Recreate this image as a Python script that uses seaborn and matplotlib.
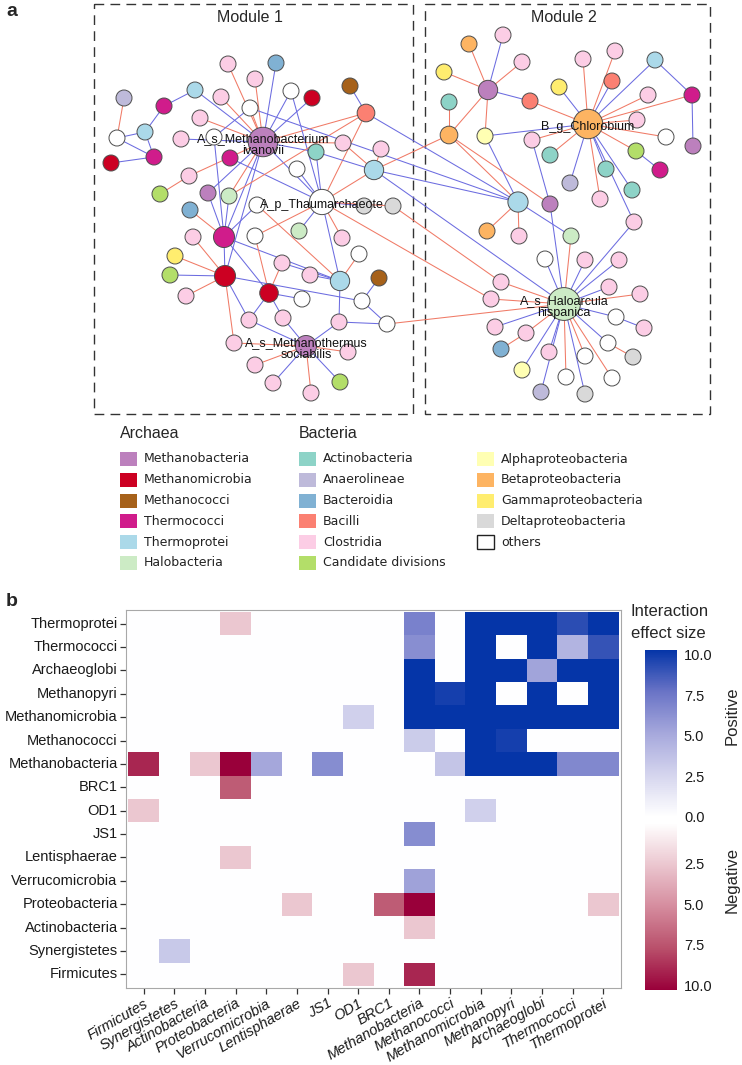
import matplotlib
matplotlib.use("Agg")
import matplotlib.pyplot as plt
import seaborn as sns
import pandas as pd
import numpy as np
from matplotlib.collections import LineCollection
from matplotlib.colors import LinearSegmentedColormap, Normalize
from matplotlib.cm import ScalarMappable
from matplotlib.patches import Rectangle

sns.set_style("white")
plt.rcParams['font.family'] = ['Liberation Sans', 'DejaVu Sans']

# ---------------- panel a: co-occurrence network ----------------
archaea_classes = ['Methanobacteria', 'Methanomicrobia', 'Methanococci',
                   'Thermococci', 'Thermoprotei', 'Halobacteria']
bacteria_classes = ['Actinobacteria', 'Anaerolineae', 'Bacteroidia',
                    'Bacilli', 'Clostridia', 'Candidate divisions']
proteo_classes = ['Alphaproteobacteria', 'Betaproteobacteria',
                  'Gammaproteobacteria', 'Deltaproteobacteria', 'others']
class_colors = {
    'Methanobacteria': '#bc80bd', 'Methanomicrobia': '#cc0022',
    'Methanococci': '#a6611a', 'Thermococci': '#d01c8b',
    'Thermoprotei': '#abd9e9', 'Halobacteria': '#ccebc5',
    'Actinobacteria': '#8dd3c7', 'Anaerolineae': '#bebada',
    'Bacteroidia': '#80b1d3', 'Bacilli': '#fb8072',
    'Clostridia': '#fccde5', 'Candidate divisions': '#b3de69',
    'Alphaproteobacteria': '#ffffb3', 'Betaproteobacteria': '#fdb462',
    'Gammaproteobacteria': '#ffed6f', 'Deltaproteobacteria': '#d9d9d9',
    'others': '#ffffff',
}

# layout coordinates (pixel space of the figure)
node_x = [263, 322, 306, 228, 276, 255, 291, 312, 350, 124, 195, 164, 221, 250, 366, 200,
          117, 145, 181, 214, 343, 316, 381, 111, 154, 230, 297, 374, 189, 160, 208, 229,
          190, 257, 364, 393, 193, 224, 255, 299, 342, 359, 175, 282, 170, 225, 310, 340,
          379, 186, 269, 302, 362, 249, 283, 339, 387, 234, 348, 255, 273, 340, 311,
          588, 564, 503, 469, 522, 444, 488, 449, 530, 449, 485, 583, 615, 655, 559, 612,
          648, 692, 637, 666, 693, 532, 550, 636, 660, 606, 570, 632, 600, 518, 550, 487,
          519, 571, 634, 545, 585, 619, 501, 609, 640, 491, 616, 495, 644, 526, 608, 501,
          549, 585, 633, 522, 566, 612, 541, 585]
node_y = [142, 202, 346, 64, 63, 79, 91, 98, 86, 98, 90, 106, 97, 108, 113, 118,
          138, 132, 139, 137, 143, 152, 149, 163, 157, 158, 169, 170, 176, 194, 193, 196,
          210, 205, 206, 206, 237, 237, 236, 231, 238, 254, 256, 263, 275, 276, 275, 281,
          278, 296, 293, 299, 301, 320, 318, 322, 324, 343, 352, 365, 383, 382, 393,
          124, 304, 35, 44, 62, 72, 90, 102, 101, 135, 136, 59, 51, 60, 87, 81,
          95, 95, 120, 137, 146, 140, 155, 151, 170, 169, 183, 190, 199, 202, 204, 231,
          236, 236, 222, 259, 260, 260, 282, 287, 294, 299, 317, 327, 328, 333, 343, 349,
          352, 356, 357, 370, 377, 378, 392, 394]
node_class = [
    'Methanobacteria', 'others', 'Methanobacteria', 'Clostridia', 'Bacteroidia', 'Clostridia',
    'others', 'Methanomicrobia', 'Methanococci', 'Anaerolineae', 'Thermoprotei', 'Thermococci',
    'Clostridia', 'others', 'Bacilli', 'Clostridia', 'others', 'Thermoprotei', 'Clostridia',
    'others', 'Clostridia', 'Actinobacteria', 'Clostridia', 'Methanomicrobia', 'Thermococci',
    'Thermococci', 'others', 'Thermoprotei', 'Clostridia', 'Candidate divisions',
    'Methanobacteria', 'Halobacteria', 'Bacteroidia', 'others', 'Deltaproteobacteria',
    'Deltaproteobacteria', 'Clostridia', 'Thermococci', 'others', 'Halobacteria', 'Clostridia',
    'others', 'Gammaproteobacteria', 'Clostridia', 'Candidate divisions', 'Methanomicrobia',
    'Clostridia', 'Thermoprotei', 'Methanococci', 'Clostridia', 'Methanomicrobia', 'others',
    'others', 'Clostridia', 'Clostridia', 'Clostridia', 'others', 'Clostridia', 'Clostridia',
    'Clostridia', 'Clostridia', 'Candidate divisions', 'Clostridia',
    'Betaproteobacteria', 'Halobacteria', 'Clostridia', 'Betaproteobacteria', 'Clostridia',
    'Gammaproteobacteria', 'Methanobacteria', 'Actinobacteria', 'Bacilli', 'Betaproteobacteria',
    'Alphaproteobacteria', 'Clostridia', 'Clostridia', 'Thermoprotei', 'Gammaproteobacteria',
    'Bacilli', 'Clostridia', 'Thermococci', 'Clostridia', 'others', 'Methanobacteria',
    'Clostridia', 'Actinobacteria', 'Candidate divisions', 'Thermococci', 'Actinobacteria',
    'Anaerolineae', 'Actinobacteria', 'Clostridia', 'Thermoprotei', 'Methanobacteria',
    'Betaproteobacteria', 'Clostridia', 'Halobacteria', 'Clostridia', 'others', 'Clostridia',
    'Clostridia', 'Clostridia', 'Clostridia', 'Clostridia', 'Clostridia', 'others', 'Clostridia',
    'Clostridia', 'Clostridia', 'others', 'Bacteroidia', 'Clostridia', 'others',
    'Deltaproteobacteria', 'Alphaproteobacteria', 'others', 'others', 'Anaerolineae',
    'Deltaproteobacteria']

# (source, target, sign)  +1 positive (blue), -1 negative (red)
edges = [
    (0, 3, -1), (0, 4, 1), (0, 5, -1), (0, 6, 1), (0, 7, 1), (0, 10, 1), (0, 12, -1),
    (0, 13, -1), (0, 15, -1), (0, 18, 1), (0, 20, -1), (0, 21, 1), (0, 14, -1), (0, 31, -1),
    (0, 30, 1), (0, 37, 1), (0, 45, 1), (0, 1, 1), (0, 28, -1),
    (1, 6, 1), (1, 14, -1), (1, 21, 1), (1, 25, 1), (1, 26, 1), (1, 38, -1), (1, 39, 1),
    (1, 40, -1), (1, 47, 1), (1, 34, 1), (1, 35, -1), (1, 104, -1), (1, 27, -1),
    (2, 53, 1), (2, 54, 1), (2, 55, 1), (2, 57, -1), (2, 58, -1), (2, 59, -1), (2, 60, 1),
    (2, 61, 1), (2, 62, -1),
    (8, 14, 1), (9, 16, -1), (10, 11, 1), (11, 17, 1), (13, 19, 1), (16, 17, 1), (16, 24, 1),
    (17, 24, 1), (19, 37, 1), (20, 27, -1), (21, 27, 1), (22, 27, -1), (23, 24, 1),
    (28, 29, -1), (30, 37, 1), (31, 37, 1), (32, 37, -1), (33, 37, 1), (36, 45, -1),
    (37, 45, 1), (37, 47, 1), (37, 50, 1), (38, 50, -1), (41, 47, -1), (42, 45, -1),
    (43, 50, -1), (43, 47, 1), (44, 45, 1), (45, 57, -1), (45, 53, 1), (45, 52, 1),
    (46, 47, 1), (33, 47, -1), (47, 55, 1), (48, 52, 1), (49, 45, -1), (50, 51, 1),
    (50, 53, 1), (50, 54, 1), (52, 56, 1), (55, 56, 1), (31, 14, -1),
    (14, 92, 1), (27, 92, 1), (27, 72, -1), (27, 64, 1), (35, 101, -1), (56, 64, -1),
    (13, 92, 1),
    (69, 65, 1), (69, 66, -1), (69, 67, -1), (69, 68, -1), (69, 71, 1), (69, 72, -1),
    (69, 73, -1), (72, 70, -1), (72, 92, -1), (72, 93, -1),
    (63, 71, -1), (63, 73, 1), (63, 74, -1), (63, 75, -1), (63, 76, 1), (63, 77, 1),
    (63, 78, 1), (63, 79, -1), (63, 80, -1), (63, 81, -1), (63, 82, -1), (63, 84, -1),
    (63, 85, -1), (63, 86, -1), (63, 88, 1), (63, 89, 1), (63, 90, 1), (63, 91, -1),
    (63, 97, 1), (76, 80, 1), (80, 83, 1), (86, 87, 1),
    (73, 92, 1), (92, 94, -1), (92, 95, -1), (92, 96, 1), (93, 84, 1), (93, 64, 1),
    (96, 64, -1), (97, 64, 1),
    (64, 98, 1), (64, 99, 1), (64, 100, 1), (64, 101, -1), (64, 102, 1), (64, 103, -1),
    (64, 104, -1), (64, 105, 1), (64, 106, 1), (64, 108, -1), (64, 109, 1), (64, 111, 1),
    (64, 112, -1), (64, 114, 1), (64, 115, -1), (64, 116, -1), (64, 117, 1), (64, 118, 1),
    (105, 107, 1), (108, 110, -1), (109, 113, -1),
]

hub_labels = {0: 'A_s_Methanobacterium\nivanovii', 1: 'A_p_Thaumarchaeote',
              2: 'A_s_Methanothermus\nsociabilis', 63: 'B_g_Chlorobium',
              64: 'A_s_Haloarcula\nhispanica'}

# ---------------- panel b: interaction heatmap ----------------
col_labels = ['Firmicutes', 'Synergistetes', 'Actinobacteria', 'Proteobacteria',
              'Verrucomicrobia', 'Lentisphaerae', 'JS1', 'OD1', 'BRC1', 'Methanobacteria',
              'Methanococci', 'Methanomicrobia', 'Methanopyri', 'Archaeoglobi',
              'Thermococci', 'Thermoprotei']
row_labels = col_labels[::-1]
# negative values = negative interaction effect size
effect_size = [
    [0, 0, 0, -2.5, 0, 0, 0, 0, 0, 6.8, 0, 10, 10, 10, 9.0, 10],
    [0, 0, 0, 0, 0, 0, 0, 0, 0, 6.2, 0, 10, 0, 10, 4.3, 8.8],
    [0, 0, 0, 0, 0, 0, 0, 0, 0, 10, 0, 10, 10, 5.2, 10, 10],
    [0, 0, 0, 0, 0, 0, 0, 0, 0, 10, 9.6, 10, 0, 10, 0, 10],
    [0, 0, 0, 0, 0, 0, 0, 2.8, 0, 10, 10, 10, 10, 10, 10, 10],
    [0, 0, 0, 0, 0, 0, 0, 0, 0, 3.0, 0, 10, 9.6, 0, 0, 0],
    [-8.8, 0, -2.5, -10, 5.0, 0, 6.3, 0, 0, 0, 3.4, 10, 10, 10, 6.5, 6.5],
    [0, 0, 0, -7.0, 0, 0, 0, 0, 0, 0, 0, 0, 0, 0, 0, 0],
    [-2.5, 0, 0, 0, 0, 0, 0, 0, 0, 0, 0, 2.8, 0, 0, 0, 0],
    [0, 0, 0, 0, 0, 0, 0, 0, 0, 6.3, 0, 0, 0, 0, 0, 0],
    [0, 0, 0, -2.5, 0, 0, 0, 0, 0, 0, 0, 0, 0, 0, 0, 0],
    [0, 0, 0, 0, 0, 0, 0, 0, 0, 5.3, 0, 0, 0, 0, 0, 0],
    [0, 0, 0, 0, 0, -2.5, 0, 0, -7.0, -10, 0, 0, 0, 0, 0, -2.5],
    [0, 0, 0, 0, 0, 0, 0, 0, 0, -2.5, 0, 0, 0, 0, 0, 0],
    [0, 3.2, 0, 0, 0, 0, 0, 0, 0, 0, 0, 0, 0, 0, 0, 0],
    [0, 0, 0, 0, 0, 0, 0, -2.5, 0, -8.8, 0, 0, 0, 0, 0, 0],
]

W, H = 742, 1065
fig = plt.figure(figsize=(W / 100, H / 100), dpi=100)

# ---------- network ----------
ax_a = fig.add_axes([0, 0, 1, 1])
nodes = pd.DataFrame({'x': node_x, 'y': node_y, 'cls': node_class})
deg = np.zeros(len(nodes))
for s_, t_, _ in edges:
    deg[s_] += 1
    deg[t_] += 1
# node radius grows with degree
radius = 8 + 0.42 * np.clip(deg - 3, 0, None)
sizes = (2 * radius * 0.72) ** 2

segs = [[(node_x[s_], node_y[s_]), (node_x[t_], node_y[t_])] for s_, t_, _ in edges]
ecol = ['#6c6ce0' if sg > 0 else '#f07a66' for _, _, sg in edges]
ax_a.add_collection(LineCollection(segs, colors=ecol, linewidths=0.75, zorder=1))

sns.scatterplot(data=nodes, x='x', y='y', hue='cls', palette=class_colors, s=sizes,
                edgecolor='#4d4d4d', linewidth=0.7, legend=False, ax=ax_a, zorder=2)

for i, lab in hub_labels.items():
    ax_a.text(node_x[i], node_y[i] + 3, lab, ha='center', va='center', fontsize=9,
              linespacing=0.95, color='#111111', zorder=3)

for x0, x1, name in [(94, 413, 'Module 1'), (425, 710, 'Module 2')]:
    ax_a.add_patch(Rectangle((x0, 4), x1 - x0, 410, fill=False, ls=(0, (7, 4.5)),
                             lw=1.0, ec='#333333', zorder=0))
    ax_a.text((x0 + x1) / 2 - 4, 18, name, ha='center', va='center', fontsize=11.5)

# legend
ax_a.text(120, 434, 'Archaea', fontsize=11.5, va='center', ha='left')
ax_a.text(299, 434, 'Bacteria', fontsize=11.5, va='center', ha='left')
for xs, group in [(120, archaea_classes), (299, bacteria_classes), (477, proteo_classes)]:
    for k, name in enumerate(group):
        yc = 459 + k * 20.8
        ec = '#222222' if name == 'others' else 'none'
        ax_a.add_patch(Rectangle((xs, yc - 7), 17, 14, fc=class_colors[name], ec=ec, lw=1.0))
        ax_a.text(xs + 24, yc, name, fontsize=9, va='center', ha='left',
                  family='DejaVu Sans', color='#222222')

ax_a.text(6, 11, 'a', fontsize=14, fontweight='bold', va='center')
ax_a.text(6, 601, 'b', fontsize=14, fontweight='bold', va='center')
ax_a.set_xlim(0, W)
ax_a.set_ylim(H, 0)
ax_a.axis('off')

# ---------- heatmap ----------
neg_stops = ['#ffffff', '#ebc6cf', '#d58c9e', '#b9506b', '#99003a']
pos_stops = ['#ffffff', '#d5d5ee', '#a6a8dc', '#6a74c6', '#0535a8']
div_cmap = LinearSegmentedColormap.from_list('div', neg_stops[::-1] + pos_stops[1:])
pos_cmap = LinearSegmentedColormap.from_list('pos', pos_stops)
neg_cmap = LinearSegmentedColormap.from_list('neg', neg_stops)

df = pd.DataFrame(effect_size, index=row_labels, columns=col_labels)
ax_b = fig.add_axes([126 / W, (H - 988) / H, 495 / W, 378 / H])
sns.heatmap(df, ax=ax_b, cmap=div_cmap, vmin=-10, vmax=10, cbar=False, linewidths=0)
ax_b.set_xlim(-0.08, 16.08)
ax_b.set_ylim(16.08, -0.08)
for sp in ax_b.spines.values():
    sp.set_visible(True)
    sp.set_color('#a8a8a8')
    sp.set_linewidth(0.8)
ax_b.tick_params(axis='both', bottom=True, left=True, length=4, width=0.9,
                 color='#333333', labelsize=10.5, labelcolor='#1a1a1a', pad=2)
ax_b.set_yticklabels(row_labels, rotation=0)
ax_b.set_xticklabels(col_labels, rotation=30, ha='right', rotation_mode='anchor',
                     fontstyle='italic')
ax_b.set_xlabel('')
ax_b.set_ylabel('')

# two stacked colour bars: positive (top) and negative (bottom)
cax_p = fig.add_axes([645 / W, (H - 817) / H, 32 / W, 167 / H])
cax_n = fig.add_axes([645 / W, (H - 990) / H, 32 / W, 167 / H])
cb_p = fig.colorbar(ScalarMappable(Normalize(0, 10.3), pos_cmap), cax=cax_p)
cb_n = fig.colorbar(ScalarMappable(Normalize(0, 10.3), neg_cmap), cax=cax_n)
cax_n.invert_yaxis()
cb_p.set_ticks([0, 2.5, 5, 7.5, 10])
cb_p.set_ticklabels(['0.0', '2.5', '5.0', '7.5', '10.0'])
cb_n.set_ticks([2.5, 5, 7.5, 10])
cb_n.set_ticklabels(['2.5', '5.0', '7.5', '10.0'])
for cb, cax in [(cb_p, cax_p), (cb_n, cax_n)]:
    cb.outline.set_visible(False)
    cax.yaxis.set_ticks_position('both')
    cax.tick_params(direction='in', length=5, width=0.8, color='white',
                    labelsize=10.5, labelcolor='#1a1a1a', pad=5)

fig.text(631 / W, 1 - 612 / H, 'Interaction', fontsize=12, va='center', ha='left')
fig.text(631 / W, 1 - 633 / H, 'effect size', fontsize=12, va='center', ha='left')
fig.text(732 / W, 1 - 716 / H, 'Positive', fontsize=12, rotation=90, va='center', ha='center')
fig.text(732 / W, 1 - 880 / H, 'Negative', fontsize=12, rotation=90, va='center', ha='center')

fig.savefig('out.png', dpi=100)
